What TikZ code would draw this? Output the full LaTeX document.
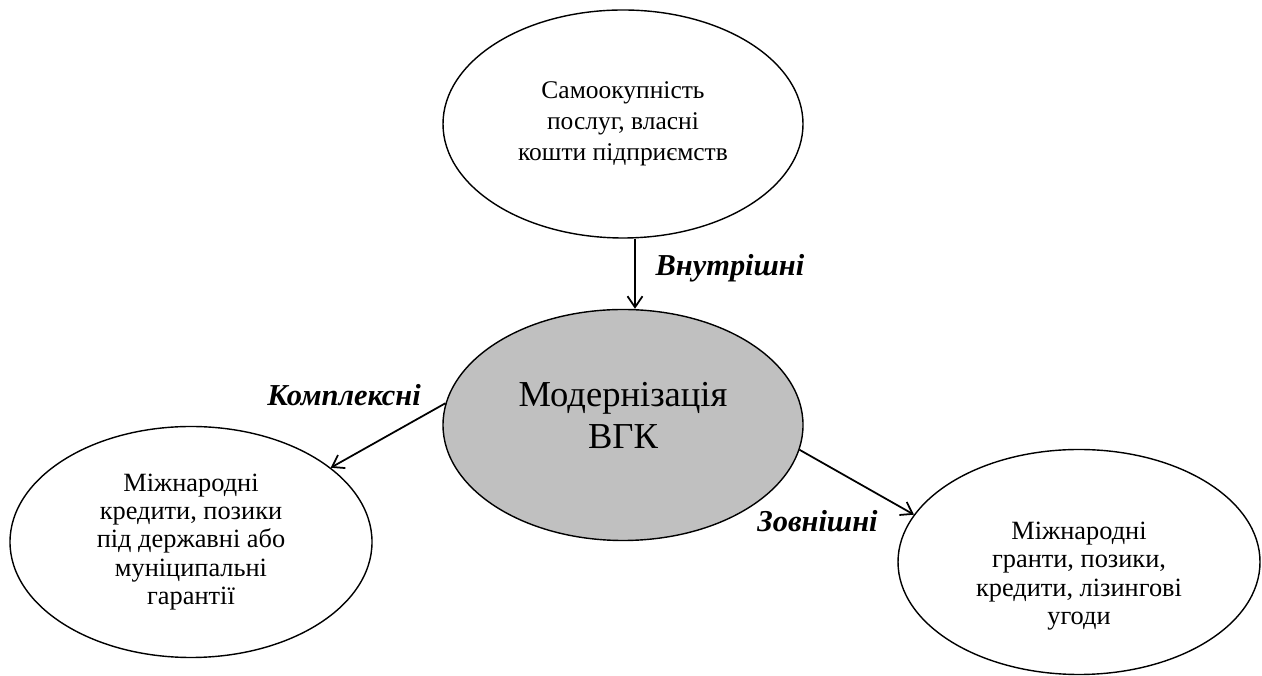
\documentclass[tikz,border=0pt]{standalone}
\usepackage{fontspec}
\setmainfont{Liberation Serif}
\usetikzlibrary{arrows.meta,shapes.geometric}
\definecolor{hubgrey}{HTML}{C0C0C0}

\begin{document}
\begin{tikzpicture}[
  font=\fontsize{15}{16}\selectfont,
  blob/.style={draw, ellipse, line width=0.8pt, minimum width=7.2cm, minimum height=4.56cm, inner sep=0pt, align=center},
  hub/.style={blob, fill=hubgrey, font=\fontsize{20.8}{24}\selectfont},
  tag/.style={font=\fontsize{17.3}{19}\selectfont\bfseries\itshape},
  arr/.style={-{Straight Barb[length=2.2mm,width=3mm]}, line width=1pt}
]
\useasboundingbox (0,0) rectangle (25.24,13.52);

\node[blob, font=\fontsize{14.5}{17.8}\selectfont] (self) at (12.46,11.04) {Самоокупність\\послуг, власні\\кошти підприємств};
\node[hub, minimum height=4.62cm, text depth=0.4cm] (mod) at (12.46,5.02) {Модернізація\\ВГК};
\node[blob, minimum width=7.24cm, minimum height=4.62cm] (intl) at (3.82,2.68) {Міжнародні\\кредити, позики\\під державні або\\муніципальні\\гарантії};
\node[blob, minimum width=7.24cm, minimum height=4.5cm, text height=2.6cm] (grant) at (21.58,2.28) {Міжнародні\\гранти, позики,\\кредити, лізингові\\угоди};

\node[tag] (inner) at (14.6,8.16) {Внутрішні};
\node[tag] (mixed) at (6.88,5.62) {Комплексні};
\node[tag] (outer) at (16.35,3.1) {Зовнішні};

\draw[arr] ([xshift=0.24cm]self.south) -- ([xshift=0.24cm]self.south |- mod.north);
\draw[arr] (mod.173) -- (intl.28);
\draw[arr] (mod.-8) -- (grant.164);
\end{tikzpicture}
\end{document}
